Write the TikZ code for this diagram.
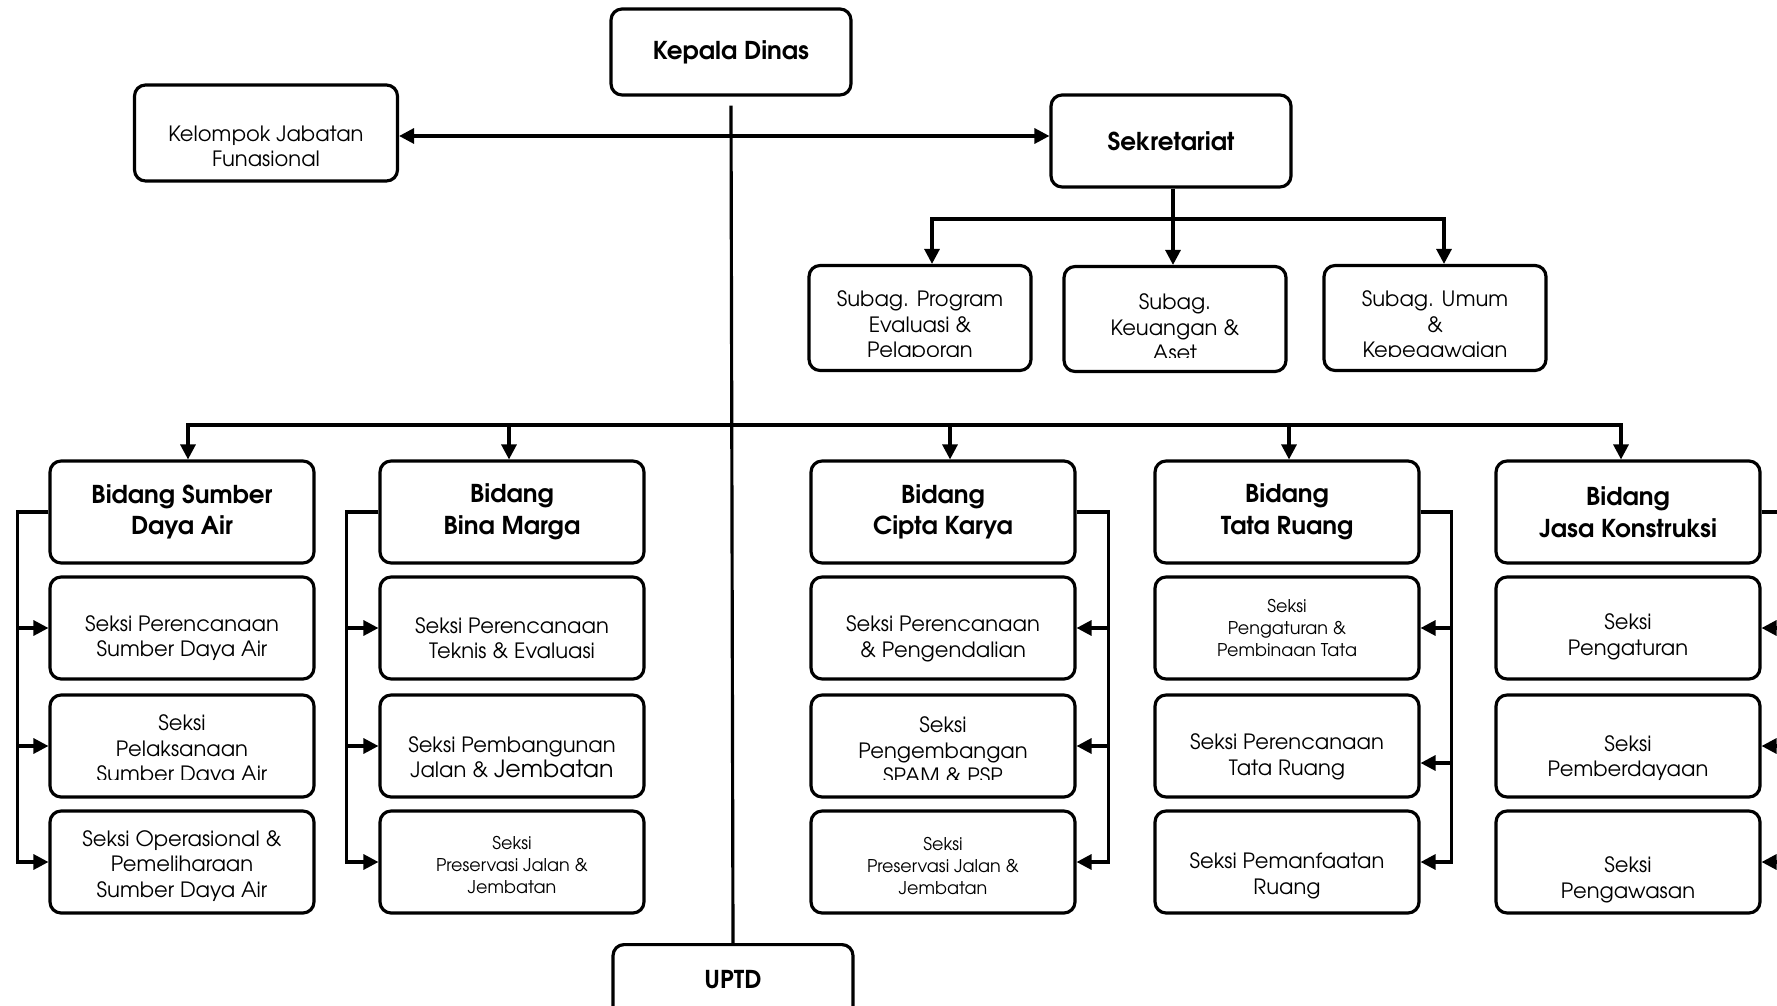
\documentclass[tikz,border=0pt]{standalone}
\usepackage{fontspec}
\setmainfont{TeX Gyre Adventor}
\usetikzlibrary{arrows.meta,calc}
\tikzstyle{unit}=[draw,line width=1.8pt,rounded corners=0.22cm,align=center,inner sep=0pt,minimum width=5.28cm,minimum height=2.04cm,font=\fontsize{12}{14.5}\selectfont]
\tikzstyle{head}=[unit,font=\bfseries\fontsize{14}{18}\selectfont]
\tikzstyle{smalltext}=[font=\fontsize{10}{12.5}\selectfont]
\tikzstyle{textonly}=[align=center,inner sep=0pt,font=\fontsize{12}{14.5}\selectfont]
\tikzstyle{edge}=[draw,line width=1.8pt,-{Triangle[length=0.3cm,width=0.3cm]}]
\tikzstyle{plainedge}=[draw,line width=1.8pt]

\begin{document}
\begin{tikzpicture}[x=0.02cm,y=-0.02cm]
\useasboundingbox (0,0) rectangle (1777,1006);
\clip (0,0) rectangle (1777,1006);

   \def\xa{182} \def\xb{512} \def\xc{943} \def\xd{1287} \def\xe{1628}
   \def\ya{512} \def\yb{628} \def\yc{746} \def\yd{862}

% top
\node[head,minimum width=4.8cm,minimum height=1.72cm] (kepala) at (731,52) {Kepala Dinas};
\node[unit,minimum width=5.26cm,minimum height=1.92cm] (kjf) at (266,133) {};
\node[textonly] (kjftxt) at ([yshift=-0.27cm]kjf.center) {Kelompok Jabatan\\Funasional};
\node[head,minimum width=4.8cm,minimum height=1.84cm] (sekr) at (1171,141) {Sekretariat};
\node[head,minimum width=4.8cm,minimum height=1.72cm,anchor=north] (uptd) at (733,943) {};
\node[textonly,font=\bfseries\fontsize{14}{18}\selectfont] (uptdtxt) at (733,980) {UPTD};

% subbagian (text cut at the bottom)
    \foreach \pos/\name/\txt in {{(920,318)/subA/{Subag. Program\\Evaluasi \&\\Pelaporan}}, {(1175,319)/subB/{Subag.\\Keuangan \&\\Aset}}, {(1435,318)/subC/{Subag. Umum\\\&\\Kepegawaian}}}
    {
    	\node[unit,minimum width=4.44cm,minimum height=2.1cm] (\name) at \pos {};
    	\begin{scope}
    	\clip (\name.north west) rectangle ([yshift=0.32cm]\name.south east);
    	\node[textonly] (\name txt) at ([yshift=-0.17cm]\name.center) {\txt};
    	\end{scope}
    }

% bidang
    \foreach \pos/\name/\txt in {{(\xa,\ya)/sda/{Bidang Sumber\\Daya Air}}, {(\xb,\ya)/bm/{Bidang\\Bina Marga}}, {(\xc,\ya)/ck/{Bidang\\Cipta Karya}}, {(\xd,\ya)/tr/{Bidang\\Tata Ruang}}, {(\xe,\ya)/jk/{Bidang\\Jasa Konstruksi}}}
    	\node[head] (\name) at \pos {\txt};

% seksi
    \foreach \pos/\name/\txt/\st/\dy in {{(\xa,\yb)/sda1/{Seksi Perencanaan\\Sumber Daya Air}/textonly/10}, {(\xa,\yd)/sda3/{Seksi Operasional \&\\Pemeliharaan\\Sumber Daya Air}/textonly/4},
      {(\xb,\yb)/bm1/{Seksi Perencanaan\\Teknis \& Evaluasi}/textonly/10}, {(\xb,\yc)/bm2/{Seksi Pembangunan\\Jalan \& {\fontsize{13.5}{14.5}\selectfont Jembatan}}/textonly/11}, {(\xb,\yd)/bm3/{Seksi\\Preservasi Jalan \&\\Jembatan}/smalltext/3},
      {(\xc,\yb)/ck1/{Seksi Perencanaan\\\& Pengendalian}/textonly/11}, {(\xc,\yd)/ck3/{Seksi\\Preservasi Jalan \&\\Jembatan}/smalltext/4},
      {(\xd,\yb)/tr1/{Seksi\\Pengaturan \&\\Pembinaan Tata}/smalltext/0}, {(\xd,\yc)/tr2/{Seksi Perencanaan\\Tata Ruang}/textonly/11}, {(\xd,\yd)/tr3/{Seksi Pemanfaatan\\Ruang}/textonly/14},
      {(\xe,\yb)/jk1/{Seksi\\Pengaturan}/textonly/9}, {(\xe,\yc)/jk2/{Seksi\\Pemberdayaan}/textonly/12}, {(\xe,\yd)/jk3/{Seksi\\Pengawasan}/textonly/18}}
    {
    	\node[unit] (\name) at \pos {};
    	\node[textonly,\st] (\name txt) at ($(\name)+(0,\dy)$) {\txt};
    }

% seksi with cut text
    \foreach \pos/\name/\txt in {{(\xa,\yc)/sda2/{Seksi\\Pelaksanaan\\Sumber Daya Air}}, {(\xc,\yc)/ck2/{Seksi\\Pengembangan\\SPAM \& PSP}}}
    {
    	\node[unit] (\name) at \pos {};
    	\begin{scope}
    	\clip (\name.north west) rectangle ([yshift=0.39cm]\name.south east);
    	\node[textonly] (\name txt) at ([yshift=-0.09cm]\name.center) {\txt};
    	\end{scope}
    }

% connectors
   \coordinate (hub) at (731,136);
   \coordinate (mbus) at (731,425);
   \coordinate (sbus) at (1173,219);
   \path[plainedge] ([yshift=-0.18cm]kepala.south) -- (uptd.north);
   \path[edge] (hub) -- (hub -| kjf.east);
   \path[edge] (hub) -- (hub -| sekr.west);

   \path[plainedge] (sekr.south -| sbus) -- (sbus);
   \path[edge] (sbus) -| ($(subA.north)+(12,0)$);
   \path[edge] (sbus) -- (sbus |- subB.north);
   \path[edge] (sbus) -| ($(subC.north)+(9,0)$);

    \foreach \b/\dx in {sda/6,bm/-3,ck/7,tr/2,jk/-7}
    	\path[edge] (mbus) -| ($(\b.north)+(\dx,0)$);

    \foreach \k in {1,2,3}
    {
    	\path[edge] (sda.west) -- ++(-31,0) |- (sda\k.west);
    	\path[edge] (bm.west) -- ++(-32,0) |- (bm\k.west);
    	\path[edge] (ck.east) -- ++(32,0) |- (ck\k.east);
    	\path[edge] (jk.east) -- ++(32,0) |- (jk\k.east);
    }
    \path[edge] (tr.east) -- ++(31,0) |- (tr1.east);
    \path[edge] (tr.east) -- ++(31,0) |- ($(tr2.east)+(0,17)$);
    \path[edge] (tr.east) -- ++(31,0) |- (tr3.east);

\end{tikzpicture}
\end{document}
